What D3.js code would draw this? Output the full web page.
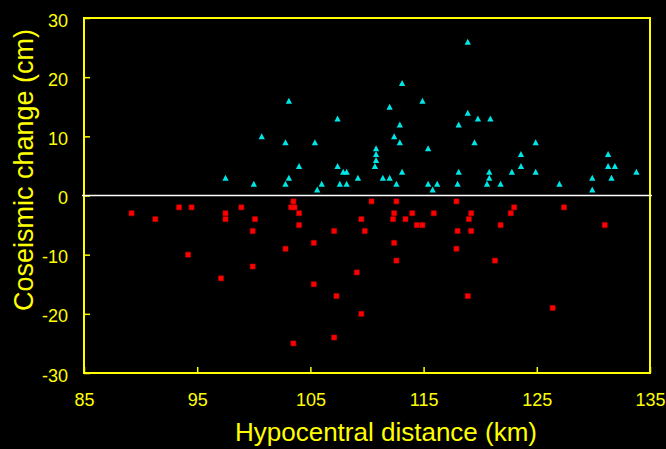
<!DOCTYPE html>
<html>
<head>
<meta charset="utf-8">
<script src="https://cdn.jsdelivr.net/npm/d3@7"></script>
<style>
  html, body { margin: 0; padding: 0; background: #000; }
  svg { display: block; }
  text { font-family: "Liberation Sans", Arial, sans-serif; }
</style>
</head>
<body>
<svg id="chart" width="666" height="449"></svg>
<script>
// Uplift stations (triangles): hypocentral distance (km) and coseismic change (cm)
const upDist = [103.1, 107.4, 100.7, 102.8, 105.4, 104.0, 107.4, 107.9, 108.2, 109.2,
                97.5, 100.0, 103.1, 102.8, 106.0, 105.6, 107.6, 108.2,
                118.9, 113.1, 114.9, 112.0, 118.9, 119.8, 120.9, 112.9, 118.1, 112.4,
                112.9, 115.4, 119.5, 124.9, 110.8, 110.8, 110.8, 110.7, 123.6, 123.6,
                131.3, 131.3, 131.9, 111.4, 112.0, 113.1, 118.1, 120.8, 120.8, 122.8,
                124.9, 133.8, 129.9, 131.6, 112.6, 115.4, 116.2, 115.8, 118.0, 120.6,
                121.8, 127.0, 129.9];
const upChange = [16, 13, 10, 9, 9, 5, 5, 4, 4, 3,
                  3, 2, 3, 2, 2, 1, 2, 2,
                  26, 19, 16, 15, 14, 13, 13, 12, 12, 10,
                  9, 8, 9, 9, 8, 7, 6, 5, 7, 5,
                  7, 5, 5, 3, 3, 4, 4, 4, 3, 4,
                  4, 4, 3, 3, 2, 2, 2, 1, 2, 2,
                  2, 2, 1];

// Subsidence stations (squares)
const downDist = [89.2, 91.3, 93.4, 94.5, 94.2, 97.5, 97.5, 98.9, 97.1, 100.1,
                  99.9, 99.9, 103.5, 103.3, 103.6, 104.0, 104.0, 102.8, 103.5, 105.3,
                  105.3, 107.1, 107.3, 107.1, 109.1, 109.5, 109.8, 109.5,
                  110.4, 112.6, 112.4, 112.3, 113.4, 114.0, 114.4, 114.9, 112.4, 112.6,
                  115.9, 117.9, 118.0, 117.9, 119.2, 119.0, 119.2, 118.9, 121.8, 121.3,
                  122.7, 123.0, 127.4, 126.4, 131.0];
const downChange = [-3, -4, -2, -2, -10, -3, -4, -2, -14, -4,
                    -6, -12, -1, -2, -2, -3, -5, -9, -25, -8,
                    -15, -6, -17, -24, -13, -4, -6, -20,
                    -1, -1, -3, -4, -4, -3, -5, -5, -8, -11,
                    -3, -1, -6, -9, -3, -4, -6, -17, -5, -11,
                    -3, -2, -2, -19, -5];

const xTicks = [85, 95, 105, 115, 125, 135];
const yTicks = [-30, -20, -10, 0, 10, 20, 30];

const AXIS = "#ffff00";
const svg = d3.select("#chart");
const plotLeft = 84, plotRight = 650, plotTop = 18, plotBottom = 373;

const x = d3.scaleLinear().domain([85, 135]).range([plotLeft, plotRight]);
const y = d3.scaleLinear().domain([-30, 30]).range([plotBottom, plotTop]);

svg.append("rect").attr("width", 666).attr("height", 449).attr("fill", "#000");

// inward ticks, plain hyphen for negatives
const fmt = d => String(d);
const gx = svg.append("g").attr("transform", `translate(0,${plotBottom})`)
  .call(d3.axisBottom(x).tickValues(xTicks).tickFormat(fmt).tickSize(-6).tickPadding(20));
const gy = svg.append("g").attr("transform", `translate(${plotLeft},0)`)
  .call(d3.axisLeft(y).tickValues(yTicks).tickFormat(fmt).tickSize(-6).tickPadding(16));
[gx, gy].forEach(g => {
  g.select(".domain").remove();
  g.selectAll(".tick line").attr("stroke", AXIS).attr("stroke-width", 1.5);
  g.selectAll(".tick text").attr("fill", AXIS).style("font-size", "18px")
    .style("font-family", "'Liberation Sans', Arial, sans-serif");
});
gy.selectAll(".tick text").attr("dy", "8px");

// plot frame
svg.append("rect")
  .attr("x", plotLeft).attr("y", plotTop)
  .attr("width", plotRight - plotLeft).attr("height", plotBottom - plotTop)
  .attr("fill", "none").attr("stroke", AXIS).attr("stroke-width", 2);

// zero line
svg.append("line")
  .attr("x1", plotLeft - 2).attr("x2", plotRight + 2)
  .attr("y1", y(0)).attr("y2", y(0))
  .attr("stroke", "#ffffff").attr("stroke-width", 1.5);

// markers
const tri = {
  draw(ctx, size) {
    const h = Math.sqrt(size) / 2;
    ctx.moveTo(0, -h);
    ctx.lineTo(h * 1.05, h);
    ctx.lineTo(-h * 1.05, h);
    ctx.closePath();
  }
};

svg.append("g").selectAll("path")
  .data(d3.range(downDist.length))
  .join("path")
  .attr("transform", i => `translate(${x(downDist[i])},${y(downChange[i])})`)
  .attr("d", d3.symbol(d3.symbolSquare, 25))
  .attr("fill", "#ff0000")
  .attr("stroke", "#c80000")
  .attr("stroke-width", 0.6);

svg.append("g").selectAll("path")
  .data(d3.range(upDist.length))
  .join("path")
  .attr("transform", i => `translate(${x(upDist[i])},${y(upChange[i])})`)
  .attr("d", d3.symbol(tri, 36))
  .attr("fill", "#00e6e6");

// axis titles
svg.append("text")
  .attr("x", 386).attr("y", 441)
  .attr("text-anchor", "middle")
  .attr("fill", AXIS).style("font-size", "26px")
  .text("Hypocentral distance (km)");

svg.append("text")
  .attr("transform", "translate(33,170) rotate(-90)")
  .attr("text-anchor", "middle")
  .attr("fill", AXIS).style("font-size", "27px")
  .text("Coseismic change (cm)");
</script>
</body>
</html>
